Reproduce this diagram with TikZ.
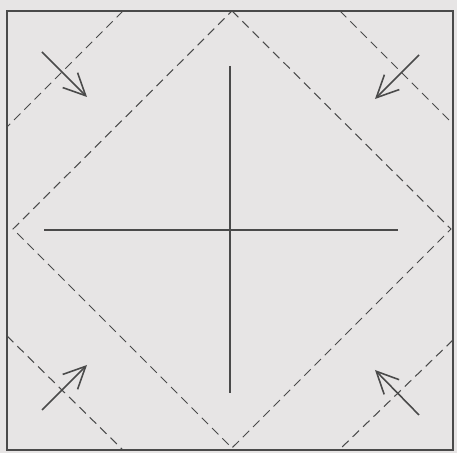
\documentclass[tikz,border=0pt]{standalone}
\usepackage{tikz}
\usetikzlibrary{arrows.meta}
\definecolor{paper}{HTML}{E7E5E5}
\definecolor{ink}{HTML}{4A4A4A}

\begin{document}
\begin{tikzpicture}[
			frame/.style={draw=ink, line width=0.8pt},
			fold/.style={draw=ink, line width=0.6pt, dash pattern=on 0.18cm off 0.11cm},
			crease/.style={draw=ink, line width=0.6pt},
			push/.style={draw=ink, line width=0.9pt, -{Straight Barb[length=4.4mm, width=4.2mm, line width=0.9pt]}}
			]
			\fill[paper] (0,0) rectangle (9.14,9.06);
			\useasboundingbox (0,0) rectangle (9.14,9.06);
			
			% sheet
			\draw[frame] (0.14,0.06) rectangle (9.06,8.84);
			
			% diamond of folds
			\coordinate (top) at (4.64,8.84);
			\coordinate (right) at (9.02,4.48);
			\coordinate (bottom) at (4.64,0.10);
			\coordinate (left) at (0.26,4.48);
			\draw[fold] (top) -- (right) -- (bottom) -- (left) -- cycle;
			
			% corner folds
			\draw[fold] (2.46,8.84) -- (0.14,6.52);
			\draw[fold] (6.80,8.84) -- (9.06,6.58);
			\draw[fold] (0.14,2.34) -- (2.46,0.06);
			\draw[fold] (9.06,2.26) -- (6.78,0.06);
			
			% centre creases
			\coordinate (n) at (4.60,7.74);
			\coordinate (s) at (4.60,1.20);
			\coordinate (w) at (0.88,4.46);
			\coordinate (e) at (7.96,4.46);
			\draw[crease] (n) -- (s);
			\draw[crease] (w) -- (e);
			
			% corners fold inwards
			\coordinate (tl) at (0.84,8.02);
			\coordinate (tr) at (8.38,7.96);
			\coordinate (bl) at (0.84,0.86);
			\coordinate (br) at (8.38,0.76);
			\draw[push] (tl) -- (1.74,7.12);
			\draw[push] (tr) -- (7.50,7.08);
			\draw[push] (bl) -- (1.74,1.76);
			\draw[push] (br) -- (7.50,1.66);
		\end{tikzpicture}
\end{document}
